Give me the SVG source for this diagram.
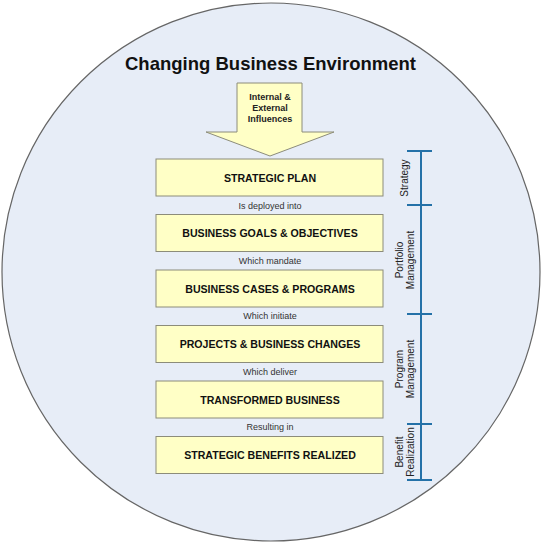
<svg xmlns="http://www.w3.org/2000/svg" width="542" height="543" viewBox="0 0 542 543">
<style>
.box{fill:#ffffc6;stroke:#8c8c7a;stroke-width:1}
.bt{font-family:"Liberation Sans",Arial,sans-serif;font-weight:bold;font-size:10.6px;fill:#111;text-anchor:middle}
.lt{font-family:"Liberation Sans",Arial,sans-serif;font-size:9px;fill:#333;text-anchor:middle}
.at{font-family:"Liberation Sans",Arial,sans-serif;font-size:9px;font-weight:bold;fill:#222;text-anchor:middle}
.st{font-family:"Liberation Sans",Arial,sans-serif;font-size:10px;fill:#222;text-anchor:middle}
.br{stroke:#2471a8;stroke-width:2;fill:none}
</style>
<rect width="542" height="543" fill="#ffffff"/>
<g id="environment">
<circle cx="271" cy="272" r="269" fill="#e7edf7" stroke="#666666" stroke-width="1.2"/>
<text x="270.5" y="70" font-family="Liberation Sans,Arial,sans-serif" font-weight="bold" font-size="19" fill="#111" text-anchor="middle" textLength="291" lengthAdjust="spacingAndGlyphs">Changing Business Environment</text>
</g>
<g id="influences">
<polygon points="237,83 302,83 302,132 334,132 270,156 206,132 237,132" fill="#ffffc6" stroke="#8c8c7a" stroke-width="1"/>
<text class="at" x="270" y="100">Internal &amp;</text>
<text class="at" x="270" y="111">External</text>
<text class="at" x="270" y="122">Influences</text>
</g>
<g id="strategic-plan"><rect class="box" x="156" y="159" width="227" height="37"/><text class="bt" x="270" y="181.5">STRATEGIC PLAN</text></g>
<g id="goals"><rect class="box" x="156" y="214.5" width="227" height="37"/><text class="bt" x="270" y="237">BUSINESS GOALS &amp; OBJECTIVES</text></g>
<g id="cases"><rect class="box" x="156" y="270" width="227" height="37"/><text class="bt" x="270" y="292.5">BUSINESS CASES &amp; PROGRAMS</text></g>
<g id="projects"><rect class="box" x="156" y="325.5" width="227" height="37"/><text class="bt" x="270" y="348">PROJECTS &amp; BUSINESS CHANGES</text></g>
<g id="transformed"><rect class="box" x="156" y="381" width="227" height="37"/><text class="bt" x="270" y="403.5">TRANSFORMED BUSINESS</text></g>
<g id="benefits"><rect class="box" x="156" y="436.5" width="227" height="37"/><text class="bt" x="270" y="459">STRATEGIC BENEFITS REALIZED</text></g>
<g id="connectors">
<text class="lt" x="270" y="208.5">Is deployed into</text>
<text class="lt" x="270" y="264">Which mandate</text>
<text class="lt" x="270" y="319">Which initiate</text>
<text class="lt" x="270" y="374.5">Which deliver</text>
<text class="lt" x="270" y="430">Resulting in</text>
</g>
<g id="phases">
<path class="br" d="M421,151 V480 M407,151 H432 M407,205 H432 M407,314 H432 M407,424 H432 M407,480 H432"/>
<text class="st" transform="translate(408,178) rotate(-90)">Strategy</text>
<text class="st" transform="translate(403,260) rotate(-90)">Portfolio</text>
<text class="st" transform="translate(414,260) rotate(-90)">Management</text>
<text class="st" transform="translate(403,369) rotate(-90)">Program</text>
<text class="st" transform="translate(414,369) rotate(-90)">Management</text>
<text class="st" transform="translate(403,452) rotate(-90)">Benefit</text>
<text class="st" transform="translate(414,452) rotate(-90)">Realization</text>
</g>
</svg>
